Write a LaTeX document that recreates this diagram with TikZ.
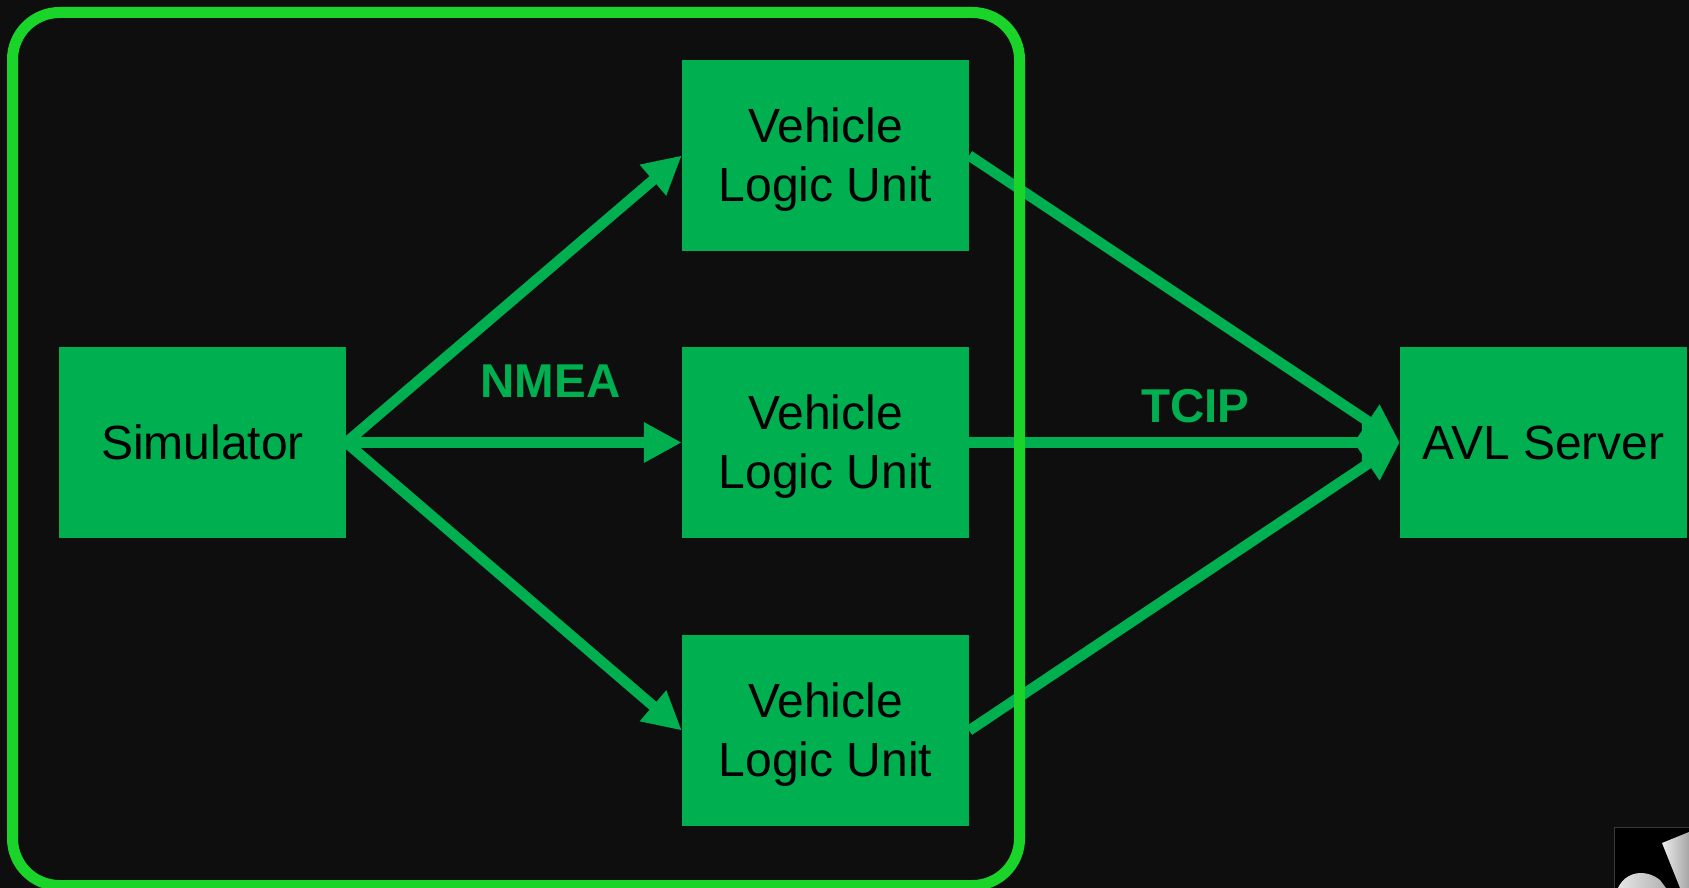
\documentclass[tikz,border=0pt]{standalone}
\usepackage{fontspec}
\setmainfont{Liberation Sans}
\usetikzlibrary{arrows.meta}
\definecolor{bg}{RGB}{14,14,14}
\definecolor{boxgreen}{RGB}{0,176,80}
\definecolor{framegreen}{RGB}{26,212,42}
\newcommand{\toplift}{\rule{0pt}{43pt}}
\begin{document}
\begin{tikzpicture}[x=1pt,y=-1pt,
  blk/.style={fill=boxgreen, minimum width=287pt, minimum height=191pt, inner sep=0pt, align=center, font=\fontsize{48}{59}\selectfont, text=black},
  conn/.style={draw=boxgreen, line width=10.5pt, -{Triangle[length=38pt,width=38pt]}},
  lbl/.style={text=boxgreen, font=\fontsize{47.5}{55}\selectfont\bfseries, inner sep=0pt, anchor=base},
  frame/.style={draw=framegreen, line width=11pt, rounded corners=47pt}]
\useasboundingbox (0,0) rectangle (1689,888);
\fill[bg] (0,0) rectangle (1689,888);

\node[blk] (sim) at (202.5,442.5) {Simulator};
\node[blk] (vlu1) at (825.5,155.5) {\toplift Vehicle\\Logic Unit};
\node[blk] (vlu2) at (825.5,442.5) {\toplift Vehicle\\Logic Unit};
\node[blk] (vlu3) at (825.5,730.5) {\toplift Vehicle\\Logic Unit};
\node[blk] (avl) at (1543.5,442.5) {AVL Server};

\draw[conn] (sim.east) -- (vlu1.west);
\draw[conn] (sim.east) -- (vlu2.west);
\draw[conn] (sim.east) -- (vlu3.west);
\draw[conn] (vlu1.east) -- (avl.west);
\draw[conn] (vlu2.east) -- (avl.west);
\draw[conn] (vlu3.east) -- (avl.west);

\node[lbl] (nmea) at (550.5,397.3) {NMEA};
\node[lbl] (tcip) at (1195.5,422) {TCIP};

\draw[frame] (12.5,12.5) rectangle (1019.5,885.5);

% clipped photo fragment, bottom right
\fill[black] (1614,827) rectangle (1689,888);
\draw[gray!45!black, line width=1pt] (1614,888) -- (1614,827) -- (1689,827);
\shade[left color=white!85!gray, right color=gray!70] (1662,843) -- (1689,832) -- (1689,888) -- (1680,888) -- cycle;
\shade[left color=white!80!gray, right color=gray!60] (1618,888) .. controls (1625,872) and (1645,868) .. (1660,880) -- (1666,888) -- cycle;
\end{tikzpicture}
\end{document}
